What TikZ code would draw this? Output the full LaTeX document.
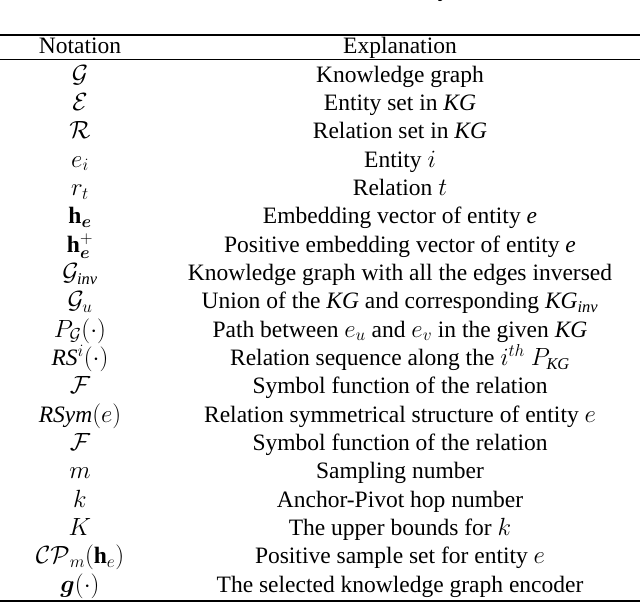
\documentclass[tikz,border=0pt]{standalone}
\usepackage{amsmath,amssymb,bm}
\usepackage{fontspec}
\setmainfont{Liberation Serif}
\begin{document}
\begin{tikzpicture}[x=1pt,y=-1pt,font=\fontsize{23.5}{26}\selectfont,
  cell/.style={anchor=base,inner sep=0pt},
  rule/.style={line width=1.3pt},
  thinrule/.style={line width=0.7pt}]
\useasboundingbox (0,0) rectangle (640,603);
\begin{scope}
\clip (0,0) rectangle (640,603);
\node[cell] (cap) at (320,-4) {Table 1: Notation summary};
\end{scope}
\draw[rule] (0,35) -- (640,35);
\draw[thinrule] (0,59) -- (640,59);
\draw[rule] (0,601) -- (640,601);
\node[cell] (hn) at (80,53) {Notation};
\node[cell] (he) at (400,53) {Explanation};
\def\rr#1#2#3{\node[cell] (n#1) at (80,{82+28.35*(#1)}) {#2};
  \node[cell] (e#1) at (400,{82+28.35*(#1)}) {#3};}
\rr{0}{$\mathcal{G}$}{Knowledge graph}
\rr{1}{$\mathcal{E}$}{Entity set in \textit{KG}}
\rr{2}{$\mathcal{R}$}{Relation set in \textit{KG}}
\rr{3}{$e_i$}{Entity $i$}
\rr{4}{$r_t$}{Relation $t$}
\rr{5}{$\mathbf{h}_{\bm{e}}$}{Embedding vector of entity \textit{e}}
\rr{6}{$\mathbf{h}_{\bm{e}}^{+}$}{Positive embedding vector of entity \textit{e}}
\rr{7}{$\mathcal{G}_{\textit{inv}}$}{Knowledge graph with all the edges inversed}
\rr{8}{$\mathcal{G}_u$}{Union of the \textit{KG} and corresponding \textit{KG}$_{\textit{inv}}$}
\rr{9}{$P_{\mathcal{G}}(\cdot)$}{Path between $e_u$ and $e_v$ in the given \textit{KG}}
\rr{10}{\textit{RS}$^i(\cdot)$}{Relation sequence along the $i^{th}$ $P_{\textit{KG}}$}
\rr{11}{$\mathcal{F}$}{Symbol function of the relation}
\rr{12}{\textit{RSym}$(e)$}{Relation symmetrical structure of entity $e$}
\rr{13}{$\mathcal{F}$}{Symbol function of the relation}
\rr{14}{$m$}{Sampling number}
\rr{15}{$k$}{Anchor-Pivot hop number}
\rr{16}{$K$}{The upper bounds for $k$}
\rr{17}{$\mathcal{CP}_m(\mathbf{h}_e)$}{Positive sample set for entity $e$}
\rr{18}{$\bm{g}(\cdot)$}{The selected knowledge graph encoder}
\end{tikzpicture}
\end{document}
